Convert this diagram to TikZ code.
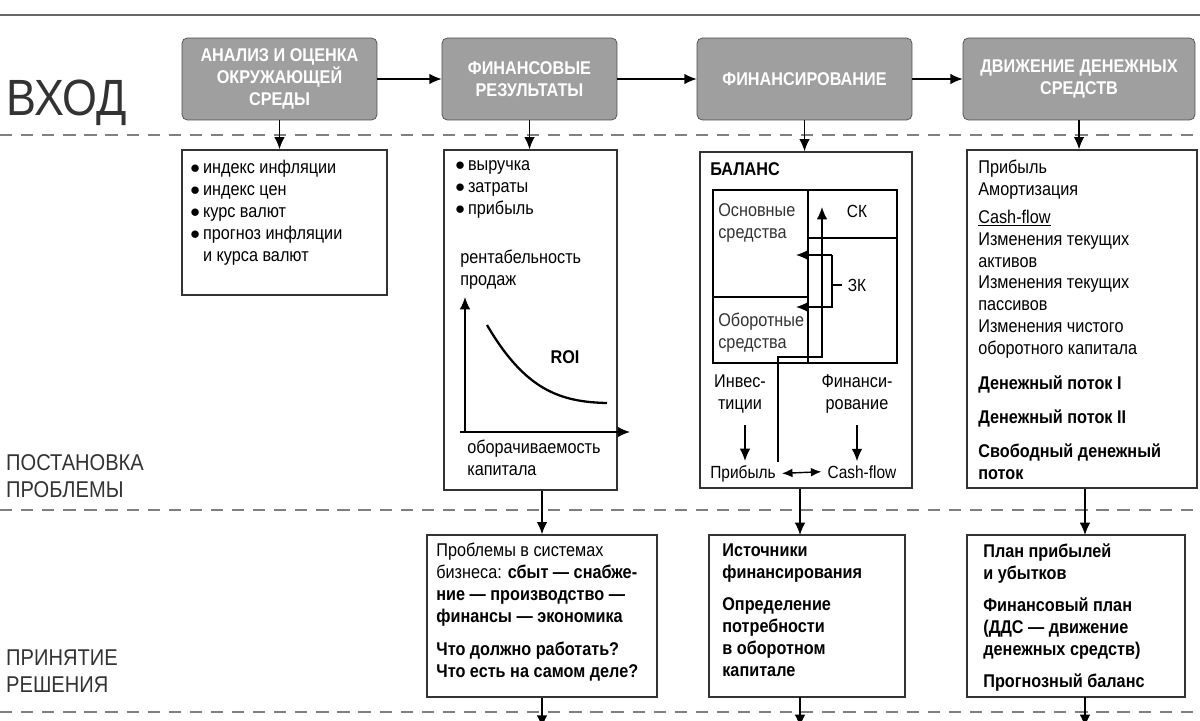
\documentclass[tikz,border=0pt]{standalone}
\usepackage{fontspec}
\setmainfont{Liberation Sans}[FakeStretch=0.88]
\usetikzlibrary{positioning,arrows.meta}
\tikzset{
  head/.style={draw=gray!60!black,fill=gray!75,rounded corners=3pt,text=white,font=\bfseries\fontsize{10.5}{12.5}\selectfont,align=center},
  box/.style={draw=black!80,line width=0.8pt},
  txt/.style={anchor=north west,align=left,inner sep=0pt,font=\fontsize{10.5}{12.5}\selectfont},
  arr/.style={-{Latex[length=7pt,width=6pt]},line width=0.8pt},
  sep/.style={dashed,gray,line width=1pt,dash pattern=on 7pt off 5pt},
  lab/.style={anchor=west,align=left,text=black!80,font=\fontsize{13}{15}\selectfont}
}
\begin{document}
\begin{tikzpicture}[x=0.02cm,y=-0.02cm]
    \useasboundingbox (0,0) rectangle (1200,720);
    \draw[gray!80!black,line width=1.2pt] (0,15)--(1200,15);
    \draw[sep] (0,135)--(1200,135);
    \draw[sep] (0,510)--(1200,510);
    \draw[sep] (0,712)--(1200,712);
    \node[lab,font=\fontsize{29}{30}\selectfont] (vhod) at (0,103) {ВХОД};
    \node[lab] (postan) at (0,476) {ПОСТАНОВКА\\ПРОБЛЕМЫ};
    \node[lab] (prin) at (0,671) {ПРИНЯТИЕ\\РЕШЕНИЯ};

    % header row
    \node[head,minimum width=3.9cm,minimum height=1.64cm] (h1) at (279.5,79) {АНАЛИЗ И ОЦЕНКА\\ОКРУЖАЮЩЕЙ\\СРЕДЫ};
    \node[head,minimum width=3.5cm,minimum height=1.64cm] (h2) at (529.5,79) {ФИНАНСОВЫЕ\\РЕЗУЛЬТАТЫ};
    \node[head,minimum width=4.3cm,minimum height=1.64cm] (h3) at (804.5,79) {ФИНАНСИРОВАНИЕ};
    \node[head,minimum width=4.64cm,minimum height=1.64cm] (h4) at (1079,79) {ДВИЖЕНИЕ ДЕНЕЖНЫХ\\СРЕДСТВ};
    \draw[arr] (h1) -- (h2);
    \draw[arr] (h2) -- (h3);
    \draw[arr] (h3) -- (h4);

    % problem row
    \node[box,minimum width=4.1cm,minimum height=2.9cm] (a) at (284.5,222.5) {};
    \node[box,minimum width=3.46cm,minimum height=6.8cm] (b) at (530.5,320) {};
    \node[box,minimum width=4.24cm,minimum height=6.72cm] (c) at (806,320) {};
    \node[box,minimum width=4.6cm,minimum height=6.76cm] (d) at (1082,319) {};
    \draw[arr] (h1.south) -- (h1.south |- a.north);
    \draw[arr] (h2.south) -- (h2.south |- b.north);
    \draw[arr] (h3.south) -- (h3.south |- c.north);
    \draw[arr] (h4.south) -- (h4.south |- d.north);

    \node[txt] (ta) at (190,160) {$\bullet$\,индекс инфляции\\$\bullet$\,индекс цен\\$\bullet$\,курс валют\\$\bullet$\,прогноз инфляции\\\phantom{$\bullet$\,}и курса валют};
    \node[txt] (tb) at (455,160) {$\bullet$\,выручка\\$\bullet$\,затраты\\$\bullet$\,прибыль};
    \node[txt] (rent) at (460,250) {рентабельность\\продаж};
    \node[txt] (obor) at (467,440) {оборачиваемость\\капитала};
    \coordinate (orig) at (465,432);
    \draw[arr] (orig) -- ++(0,-135);
    \draw[arr] (orig) ++(-5,0) -- ++(170,0);
    \draw[line width=1.3pt] (487,325) .. controls (525,390) and (560,402) .. (607,403);
    \node[font=\bfseries\fontsize{10.5}{12.5}\selectfont] (roi) at (565,357) {ROI};

    % balance sheet
    \node[txt,font=\bfseries\fontsize{10.5}{12.5}\selectfont] (bal) at (710,162) {БАЛАНС};
    \draw[line width=0.8pt] (713,190) rectangle (897,363);
    \draw[line width=0.8pt] (808,190) -- (808,363);
    \draw[line width=0.8pt] (713,297) -- (808,297);
    \draw[line width=0.8pt] (808,238) -- (897,238);
    \node[txt,text=black!80] (os) at (718,203) {Основные\\средства};
    \node[txt,text=black!80] (ob) at (718,313) {Оборотные\\средства};
    \node (sk) at (857,211) {СК};
    \node (zk) at (857,285) {ЗК};
    \node[txt,align=center,anchor=north] (inv) at (740,374) {Инвес-\\тиции};
    \node[txt,align=center,anchor=north] (fin) at (857,374) {Финанси-\\рование};
    \node[anchor=base] (prib) at (743,478) {Прибыль};
    \node[anchor=base] (cf) at (862,478) {Cash-flow};
    \draw[arr] (inv.south) ++(5,12) -- ++(0,36);
    \draw[arr] (fin.south) ++(0,12) -- ++(0,36);
    \draw[{Latex[length=6pt,width=5pt]}-{Latex[length=6pt,width=5pt]},line width=0.8pt] (prib.east) -- (cf.west);
    \draw[arr] (778,462) -- (778,357) -- (822,357) -- (822,207);
    \draw[line width=0.8pt] (zk.west) -- (832,285);
    \draw[arr] (832,255) -- (832,307) -- (796,307);
    \draw[arr] (832,255) -- (796,255);

    \node[txt] (td) at (978,160) {Прибыль\\Амортизация\\[3pt]\underline{Cash-flow}\\Изменения текущих\\активов\\Изменения текущих\\пассивов\\Изменения чистого\\оборотного капитала\\[7pt]\textbf{Денежный поток I}\\[7pt]\textbf{Денежный поток II}\\[7pt]\textbf{Свободный денежный}\\\textbf{поток}};

    % decision row
    \node[box,minimum width=4.6cm,minimum height=3.24cm] (e) at (542,616) {};
    \node[box,minimum width=3.92cm,minimum height=3.24cm] (f) at (807,616) {};
    \node[box,minimum width=4.36cm,minimum height=3.24cm] (g) at (1076,616) {};
    \draw[arr] (b.south -| 542,0) -- (e.north);
    \draw[arr] (c.south -| 800,0) -- (800,535);
    \draw[arr] (d.south -| 1085,0) -- (1085,535);
    \node[txt] (te) at (436,543) {Проблемы в системах\\бизнеса: \textbf{сбыт — снабже-}\\\textbf{ние — производство —}\\\textbf{финансы — экономика}\\[6pt]\textbf{Что должно работать?}\\\textbf{Что есть на самом деле?}};
    \node[txt,font=\bfseries\fontsize{10.5}{12.5}\selectfont] (tf) at (722,543) {Источники\\финансирования\\[6pt]Определение\\потребности\\в оборотном\\капитале};
    \node[txt,font=\bfseries\fontsize{10.5}{12.5}\selectfont] (tg) at (983,543) {План прибылей\\и убытков\\[6pt]Финансовый план\\(ДДС — движение\\денежных средств)\\[6pt]Прогнозный баланс};
    \draw[arr] (e.south) -- ++(0,30);
    \draw[arr] (800,697) -- ++(0,30);
    \draw[arr] (1085,697) -- ++(0,30);
\end{tikzpicture}
\end{document}
